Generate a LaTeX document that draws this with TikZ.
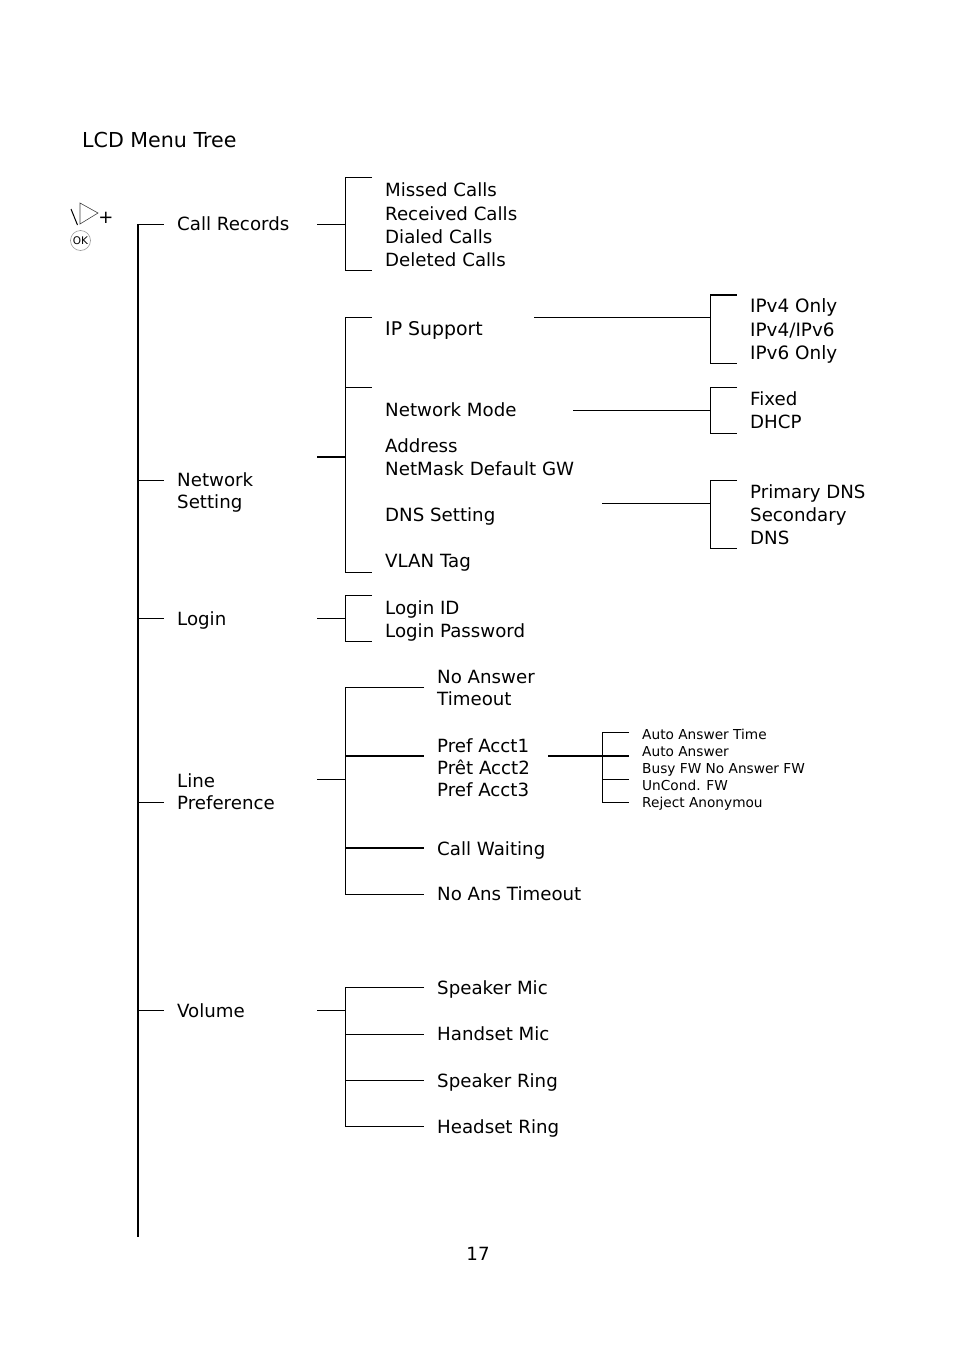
\documentclass[tikz,border=0pt]{standalone}
\usepackage{fontspec}
\setmainfont{DejaVu Sans}
\tikzset{
  x=1pt,y=-1pt,
  wire/.style={draw=black,line width=0.8pt},
  heavy/.style={draw=black,line width=2pt},
  lbl/.style={anchor=west,inner sep=0pt,align=left,font=\fontsize{18.2}{23.2}\selectfont},
  tight/.style={font=\fontsize{18.2}{22.2}\selectfont},
  smalllbl/.style={anchor=west,inner sep=0pt,align=left,font=\fontsize{13.7}{16.9}\selectfont},
}
\begin{document}
\begin{tikzpicture}
\useasboundingbox (0,0) rectangle (954,1355);
% texts
\node[lbl,font=\fontsize{20.6}{24}\selectfont] (title) at (82,140) {LCD Menu Tree};
\node[lbl] (callrec) at (177,224) {Call Records};
\node[lbl] (crsub) at (385,225) {Missed Calls\\Received Calls\\Dialed Calls\\Deleted Calls};
\node[lbl,tight] (netset) at (177,492.6) {Network\\Setting};
\node[lbl,font=\fontsize{18.9}{23.2}\selectfont] (ip) at (385,330.5) {IP Support};
\node[lbl,font=\fontsize{18.4}{23.2}\selectfont] (ipsub) at (750,331) {IPv4 Only\\IPv4/IPv6\\IPv6 Only};
\node[lbl] (nmode) at (385,410) {Network Mode};
\node[lbl] (nmsub) at (750,410.3) {Fixed\\DHCP};
\node[lbl] (addr) at (385,457) {Address\\NetMask Default GW};
\node[lbl] (dns) at (385,516) {DNS Setting};
\node[lbl] (dnssub) at (750,515) {Primary DNS\\Secondary\\DNS};
\node[lbl] (vlan) at (385,563) {VLAN Tag};
\node[lbl] (login) at (177,620) {Login};
\node[lbl] (lgsub) at (385,620.8) {Login ID\\Login Password};
\node[lbl,tight] (linep) at (177,791.6) {Line\\Preference};
\node[lbl,tight] (noans) at (437,688) {No Answer\\Timeout};
\node[lbl,tight] (pref) at (437,768) {Pref Acct1\\Prêt Acct2\\Pref Acct3};
\node[smalllbl] (prefsub) at (642,769.5) {Auto Answer Time\\Auto Answer\\Busy FW No Answer FW\\UnCond. FW\\Reject Anonymou};
\node[lbl] (cwait) at (437,850) {Call Waiting};
\node[lbl] (nato) at (437,894) {No Ans Timeout};
\node[lbl] (volume) at (177,1011) {Volume};
\node[lbl] (spkmic) at (437,989) {Speaker Mic};
\node[lbl] (hsmic) at (437,1034) {Handset Mic};
\node[lbl] (spkring) at (437,1082) {Speaker Ring};
\node[lbl] (hsring) at (437,1128) {Headset Ring};
\node[lbl,anchor=base] (pagenum) at (478,1260) {17};
% key icon
\coordinate (triA) at (80,203);
\coordinate (triB) at (98,213);
\coordinate (triC) at (80,224);
\draw[draw=black!75,line width=0.6pt] (triA) -- (triB) -- (triC) -- cycle;
\coordinate (bsA) at (71,209);
\coordinate (bsB) at (77.5,225);
\draw[draw=black,line width=1pt] (bsA) -- (bsB);
\node[inner sep=0pt,font=\fontsize{18}{20}\selectfont] (plus) at (106,218) {+};
\node[circle,draw=black!40,line width=0.6pt,minimum size=20pt,inner sep=0pt,font=\fontsize{10.5}{11}\selectfont] (okkey) at (80.5,240.5) {OK};
% trunk
\coordinate (tTop) at (138,224);
\coordinate (tEnd) at (138,1237);
\draw[heavy] (tTop) -- (tEnd);
\coordinate (t1) at (138,224.5); \coordinate (t1e) at (164,224.5);
\coordinate (t2) at (138,480.5); \coordinate (t2e) at (164,480.5);
\coordinate (t3) at (138,618.5); \coordinate (t3e) at (164,618.5);
\coordinate (t4) at (138,802.5); \coordinate (t4e) at (164,802.5);
\coordinate (t5) at (138,1010.5); \coordinate (t5e) at (164,1010.5);
\draw[wire] (t1) -- (t1e);
\draw[wire] (t2) -- (t2e);
\draw[wire] (t3) -- (t3e);
\draw[wire] (t4) -- (t4e);
\draw[wire] (t5) -- (t5e);
% call records
\coordinate (a0) at (317,224.5); \coordinate (a1) at (345,224.5);
\coordinate (a2) at (372,177.5); \coordinate (a3) at (345,177.5);
\coordinate (a4) at (345,270.5); \coordinate (a5) at (372,270.5);
\draw[wire] (a0) -- (a1);
\draw[wire] (a2) -- (a3) -- (a4) -- (a5);
% network
\coordinate (b0) at (317,456.5); \coordinate (b1) at (345,456.5);
\coordinate (b2) at (372,317.5); \coordinate (b3) at (345,317.5);
\coordinate (b4) at (345,572.5); \coordinate (b5) at (372,572.5);
\coordinate (b6) at (345,387.5); \coordinate (b7) at (372,387.5);
\draw[heavy] (b0) -- (b1);
\draw[wire] (b2) -- (b3) -- (b4) -- (b5);
\draw[wire] (b6) -- (b7);
% IP support
\coordinate (c0) at (534,317.5); \coordinate (c1) at (710,317.5);
\coordinate (c2) at (737,294.5); \coordinate (c3) at (710,294.5);
\coordinate (c4) at (710,363.5); \coordinate (c5) at (737,363.5);
\draw[wire] (c0) -- (c1);
\draw[wire] (c3) -- (c4) -- (c5);
\draw[heavy] (c3) -- (c2);
% network mode
\coordinate (d0) at (573,410.5); \coordinate (d1) at (710,410.5);
\coordinate (d2) at (737,387.5); \coordinate (d3) at (710,387.5);
\coordinate (d4) at (710,433.5); \coordinate (d5) at (737,433.5);
\draw[wire] (d0) -- (d1);
\draw[wire] (d2) -- (d3) -- (d4) -- (d5);
% DNS
\coordinate (e0) at (602,503.5); \coordinate (e1) at (710,503.5);
\coordinate (e2) at (737,480.5); \coordinate (e3) at (710,480.5);
\coordinate (e4) at (710,548.5); \coordinate (e5) at (737,548.5);
\draw[wire] (e0) -- (e1);
\draw[wire] (e2) -- (e3) -- (e4) -- (e5);
% login
\coordinate (f0) at (317,618.5); \coordinate (f1) at (345,618.5);
\coordinate (f2) at (372,595.5); \coordinate (f3) at (345,595.5);
\coordinate (f4) at (345,641.5); \coordinate (f5) at (372,641.5);
\draw[wire] (f0) -- (f1);
\draw[wire] (f2) -- (f3) -- (f4) -- (f5);
% line preference
\coordinate (g0) at (317,779.5); \coordinate (g1) at (345,779.5);
\coordinate (g2) at (424,687.5); \coordinate (g3) at (345,687.5);
\coordinate (g4) at (345,894.5); \coordinate (g5) at (424,894.5);
\coordinate (g6) at (345,755.5); \coordinate (g7) at (424,755.5);
\coordinate (g8) at (345,847.5); \coordinate (g9) at (424,847.5);
\draw[wire] (g0) -- (g1);
\draw[wire] (g2) -- (g3) -- (g4) -- (g5);
\draw[heavy] (g6) -- (g7);
\draw[heavy] (g8) -- (g9);
% pref acct
\coordinate (h0) at (548,755.5); \coordinate (h1) at (629,755.5);
\coordinate (h2) at (629,732.5); \coordinate (h3) at (602.5,732.5);
\coordinate (h4) at (602.5,802.5); \coordinate (h5) at (629,802.5);
\coordinate (h6) at (602.5,779.5); \coordinate (h7) at (629,779.5);
\draw[heavy] (h0) -- (h1);
\draw[wire] (h2) -- (h3) -- (h4) -- (h5);
\draw[wire] (h6) -- (h7);
% volume
\coordinate (k0) at (317,1010.5); \coordinate (k1) at (345,1010.5);
\coordinate (k2) at (424,987.5); \coordinate (k3) at (345,987.5);
\coordinate (k4) at (345,1126.5); \coordinate (k5) at (424,1126.5);
\coordinate (k6) at (345,1034.5); \coordinate (k7) at (424,1034.5);
\coordinate (k8) at (345,1080.5); \coordinate (k9) at (424,1080.5);
\draw[wire] (k0) -- (k1);
\draw[wire] (k2) -- (k3) -- (k4) -- (k5);
\draw[wire] (k6) -- (k7);
\draw[wire] (k8) -- (k9);
\end{tikzpicture}
\end{document}
